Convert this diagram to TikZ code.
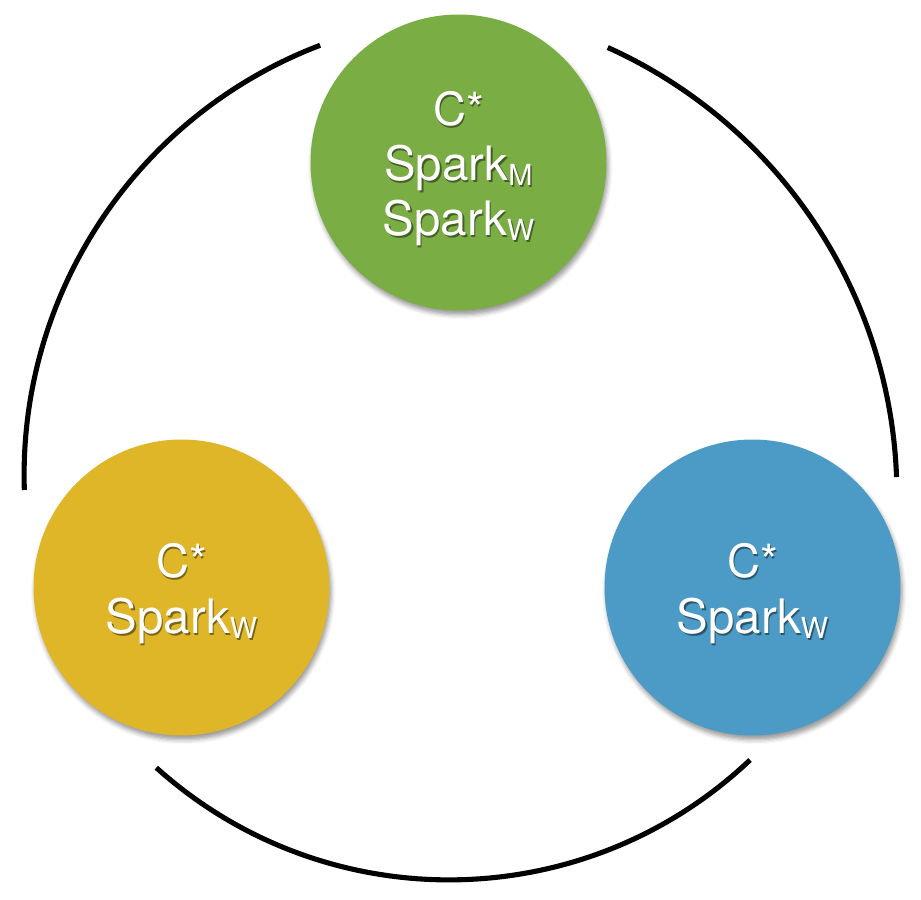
\documentclass[tikz,border=0pt]{standalone}
\usepackage{fontspec}
\setmainfont{TeX Gyre Heros}
\usetikzlibrary{calc,shadows.blur}
\definecolor{cgreen}{RGB}{122,173,68}
\definecolor{cyellow}{RGB}{224,182,41}
\definecolor{cblue}{RGB}{76,155,199}
\newcommand\subtxt[1]{\raisebox{-2.8pt}{\fontsize{16.5}{16.5}\selectfont #1}}
\newcommand\shtxt[2]{\makebox[0pt][l]{\hspace{0.8pt}\raisebox{-1.2pt}{\color{#1}#2}}{#2}}
\newcommand\topline[1]{\rule{0pt}{27.5pt}\shtxt{#1}{\fontsize{26}{31.5}\selectfont C*}}
\tikzset{
  hub/.style={circle, minimum size=5.92cm, inner sep=0pt, text=white, align=center,
    font=\fontsize{27}{31.5}\selectfont,
    blur shadow={shadow xshift=1pt, shadow yshift=-2.5pt, shadow blur radius=2.5pt, shadow opacity=40}},
  ring/.style={line width=2.9pt, draw=black}
}
\begin{document}
\begin{tikzpicture}[x=0.02cm,y=0.02cm]
\useasboundingbox (0,0) rectangle (921,900);
% nodes
\node[hub, fill=cgreen] (m) at (458.5,737.5)
  {\topline{cgreen!55!black}\\ \shtxt{cgreen!55!black}{Spark\subtxt{M}}\\ \shtxt{cgreen!55!black}{Spark\subtxt{W}}};
\node[hub, fill=cyellow] (y) at (181.5,312.5)
  {\topline{cyellow!55!black}\\ \shtxt{cyellow!55!black}{Spark\subtxt{W}}};
\node[hub, fill=cblue] (b) at (752.5,312.5)
  {\topline{cblue!55!black}\\ \shtxt{cblue!55!black}{Spark\subtxt{W}}};
% arcs
\coordinate (cl) at (484,425);
\coordinate (cr) at (406,405);
\coordinate (cb) at (449,458);
\coordinate (l1) at ($(cl)+(110.87:9.2cm)$);
\coordinate (r1) at ($(cr)+(65.73:9.82cm)$);
\coordinate (b1) at ($(cb)+(228.05:8.76cm)$);
\draw[ring] (l1) arc[start angle=110.87, end angle=181.87, radius=9.2cm];
\draw[ring] (r1) arc[start angle=65.73, end angle=2.1, radius=9.82cm];
\draw[ring] (b1) arc[start angle=228.05, end angle=313.43, radius=8.76cm];
\end{tikzpicture}
\end{document}
